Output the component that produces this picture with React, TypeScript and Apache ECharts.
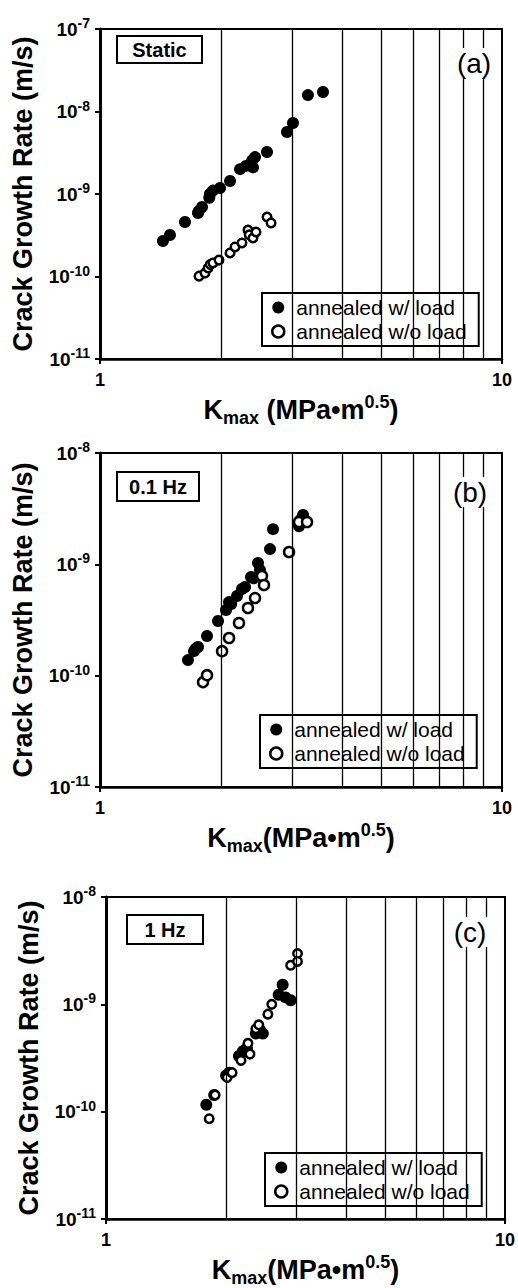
import React, { useEffect, useRef } from "react";
import * as echarts from "echarts";

const FONT = '"Liberation Sans", Arial, Helvetica, sans-serif';

// Gridline positions on the K axis
const gridK = [2, 3, 4, 5, 6, 7, 8, 9];

const seriesNames = ["annealed w/ load", "annealed w/o load"];
const panelTags = ["Static", "0.1 Hz", "1 Hz"];
const panelLetters = ["(a)", "(b)", "(c)"];

// (a) Static
const staticWithLoad: [number, number][] = [
  [1.434, 2.69e-10], [1.493, 3.18e-10], [1.627, 4.58e-10], [1.753, 5.89e-10], [1.76, 6.2e-10],
  [1.794, 6.95e-10], [1.87, 9.0e-10], [1.877, 1.0e-9], [1.91, 1.1e-9], [1.989, 1.18e-9],
  [2.106, 1.44e-9], [2.23, 2.0e-9], [2.307, 2.19e-9], [2.39, 2.55e-9], [2.402, 2.1e-9],
  [2.43, 2.8e-9], [2.603, 3.23e-9], [2.918, 5.65e-9], [3.02, 7.25e-9], [3.29, 1.58e-8], [3.587, 1.72e-8],
];
const staticNoLoad: [number, number][] = [
  [1.763, 1.01e-10], [1.825, 1.1e-10], [1.857, 1.27e-10], [1.88, 1.4e-10], [1.91, 1.46e-10],
  [1.977, 1.58e-10], [2.106, 1.93e-10], [2.167, 2.28e-10], [2.255, 2.55e-10], [2.334, 3.66e-10],
  [2.35, 3.2e-10], [2.402, 2.93e-10], [2.444, 3.46e-10], [2.603, 5.26e-10], [2.664, 4.46e-10],
];

// (b) 0.1 Hz
const hz01WithLoad: [number, number][] = [
  [1.655, 1.38e-10], [1.713, 1.66e-10], [1.73, 1.75e-10], [1.753, 1.81e-10], [1.846, 2.27e-10],
  [1.966, 3.1e-10], [2.058, 3.89e-10], [2.094, 4.58e-10], [2.12, 4.4e-10], [2.192, 5.19e-10],
  [2.255, 6.0e-10], [2.295, 6.25e-10], [2.375, 7.69e-10], [2.41, 7.5e-10], [2.472, 1.03e-9],
  [2.5, 8.9e-10], [2.648, 1.37e-9], [2.694, 2.07e-9], [3.126, 2.2e-9], [3.15, 2.5e-9], [3.2, 2.77e-9],
];
const hz01NoLoad: [number, number][] = [
  [1.804, 8.75e-11], [1.846, 1.01e-10], [2.012, 1.66e-10], [2.094, 2.18e-10], [2.217, 2.97e-10],
  [2.334, 4.05e-10], [2.43, 4.98e-10], [2.529, 7.85e-10], [2.558, 6.52e-10], [2.953, 1.29e-9],
  [3.126, 2.4e-9], [3.273, 2.4e-9],
];

// (c) 1 Hz
const hz1WithLoad: [number, number][] = [
  [1.784, 1.16e-10], [1.867, 1.43e-10], [2.0, 2.17e-10], [2.035, 2.31e-10], [2.154, 3.3e-10],
  [2.204, 3.66e-10], [2.255, 3.9e-10], [2.375, 5.34e-10], [2.43, 5.8e-10], [2.472, 5.34e-10],
  [2.709, 1.23e-9], [2.772, 1.52e-9], [2.82, 1.16e-9], [2.902, 1.09e-9],
];
const hz1NoLoad: [number, number][] = [
  [1.814, 8.6e-11], [1.877, 1.43e-10], [2.012, 2.08e-10], [2.07, 2.31e-10], [2.18, 3.0e-10],
  [2.269, 4.33e-10], [2.295, 3.44e-10], [2.375, 5.93e-10], [2.415, 6.44e-10], [2.545, 8.1e-10],
  [2.603, 1.0e-9], [2.902, 2.31e-9], [3.02, 2.97e-9], [3.02, 2.51e-9],
];

const yRanges: [number, number][] = [
  [1e-11, 1e-7],
  [1e-11, 1e-8],
  [1e-11, 1e-8],
];
const xRange: [number, number] = [1, 10];

const withLoadSets = [staticWithLoad, hz01WithLoad, hz1WithLoad];
const noLoadSets = [staticNoLoad, hz01NoLoad, hz1NoLoad];

// layout (pixels)
const layout = [
  { grid: { left: 100, top: 29, width: 402, height: 330 }, tagBox: [117, 36, 85, 27], letter: [474, 63], legend: [262, 293], xName: "{k|K}{sub|max}{k| (MPa•m}{sup|0.5}{k|)}" },
  { grid: { left: 100, top: 453, width: 402, height: 334 }, tagBox: [117, 472, 82, 29], letter: [470, 492], legend: [260, 715], xName: "{k|K}{sub|max}{k|(MPa•m}{sup|0.5}{k|)}" },
  { grid: { left: 106, top: 897, width: 402, height: 330 }, tagBox: [127, 915, 76, 29], letter: [470, 932], legend: [265, 1153], xName: "{k|K}{sub|max}{k|(MPa•m}{sup|0.5}{k|)}" },
];

export default function App() {
  const ref = useRef<HTMLDivElement>(null);
  useEffect(() => {
    document.body.style.margin = "0";
    if (!ref.current) return;
    const chart = echarts.init(ref.current, undefined, { renderer: "svg" });

    const grids: any[] = [];
    const xAxes: any[] = [];
    const yAxes: any[] = [];
    const series: any[] = [];
    const legends: any[] = [];
    const graphics: any[] = [];

    layout.forEach((L, i) => {
      grids.push({ ...L.grid, show: true, borderColor: "#000", borderWidth: 2, backgroundColor: "#fff" });
      xAxes.push({
        type: "log",
        logBase: 10,
        gridIndex: i,
        min: xRange[0],
        max: xRange[1],
        splitLine: { show: false },
        axisLine: { show: true, lineStyle: { color: "#000", width: 2.5 } },
        axisTick: { show: true, length: 5, lineStyle: { color: "#000", width: 2 } },
        axisLabel: { fontFamily: FONT, fontWeight: "bold", fontSize: 18, color: "#000", margin: 12 },
        name: L.xName,
        nameLocation: "middle",
        nameGap: 34,
        nameTextStyle: {
          color: "#000",
          rich: {
            k: { fontFamily: FONT, fontWeight: "bold", fontSize: 27, lineHeight: 34, color: "#000" },
            sub: { fontFamily: FONT, fontWeight: "bold", fontSize: 18, lineHeight: 26, verticalAlign: "bottom", color: "#000" },
            sup: { fontFamily: FONT, fontWeight: "bold", fontSize: 18, lineHeight: 18, verticalAlign: "top", color: "#000" },
          },
        },
      });
      yAxes.push({
        type: "log",
        logBase: 10,
        gridIndex: i,
        min: yRanges[i][0],
        max: yRanges[i][1],
        splitLine: { show: false },
        axisLine: { show: true, lineStyle: { color: "#000", width: 3 } },
        axisTick: { show: true, length: 5, lineStyle: { color: "#000", width: 2 } },
        axisLabel: {
          margin: 10,
          formatter: (v: number) => `{b|10}{s|${Math.round(Math.log10(v))}}`,
          rich: {
            b: { fontFamily: FONT, fontWeight: "bold", fontSize: 19, lineHeight: 26, color: "#000" },
            s: { fontFamily: FONT, fontWeight: "bold", fontSize: 14, lineHeight: 14, verticalAlign: "top", color: "#000" },
          },
        },
        name: "Crack Growth Rate (m/s)",
        nameLocation: "middle",
        nameRotate: 90,
        nameGap: 64,
        nameTextStyle: { fontFamily: FONT, fontWeight: "bold", fontSize: 27, color: "#000" },
      });
      series.push({
        type: "line",
        xAxisIndex: i,
        yAxisIndex: i,
        data: [],
        z: 1,
        silent: true,
        markLine: {
          silent: true,
          symbol: "none",
          label: { show: false },
          lineStyle: { color: "#000", width: 1.3, type: "solid" },
          data: gridK.map((k) => ({ xAxis: k })),
        },
      });
      series.push({
        type: "scatter",
        name: seriesNames[0],
        xAxisIndex: i,
        yAxisIndex: i,
        data: withLoadSets[i],
        symbol: "circle",
        symbolSize: 12,
        itemStyle: { color: "#000", opacity: 1 },
        z: 3,
      });
      series.push({
        type: "scatter",
        name: seriesNames[1],
        xAxisIndex: i,
        yAxisIndex: i,
        data: noLoadSets[i],
        symbol: "circle",
        symbolSize: i === 1 ? 10 : 8.5,
        itemStyle: { color: "#fff", borderColor: "#000", borderWidth: 2.5, opacity: 1 },
        z: 4,
      });
      legends.push({
        data: [
          { name: seriesNames[0] },
          { name: seriesNames[1], itemStyle: { color: "#fff", borderColor: "#000", borderWidth: 2.5 } },
        ],
        left: L.legend[0],
        top: L.legend[1],
        orient: "vertical",
        backgroundColor: "#fff",
        borderColor: "#000",
        borderWidth: 2,
        padding: [4, 12, 4, 9],
        itemGap: 3,
        itemWidth: 26,
        itemHeight: 12,
        icon: "circle",
        selectedMode: false,
        textStyle: { fontFamily: FONT, fontSize: 21, color: "#000" },
      });
      const [bx, by, bw, bh] = L.tagBox;
      graphics.push({
        type: "rect",
        z: 10,
        shape: { x: bx, y: by, width: bw, height: bh },
        style: { fill: "#fff", stroke: "#000", lineWidth: 2 },
      });
      graphics.push({
        type: "text",
        z: 11,
        x: bx + bw / 2,
        y: by + bh / 2,
        style: {
          text: panelTags[i],
          fontFamily: FONT,
          fontWeight: "bold",
          fontSize: 20,
          fill: "#000",
          align: "center",
          verticalAlign: "middle",
        },
      });
      graphics.push({
        type: "text",
        z: 11,
        x: L.letter[0],
        y: L.letter[1],
        style: {
          text: panelLetters[i],
          fontFamily: FONT,
          fontSize: 28,
          fill: "#000",
          align: "center",
          verticalAlign: "middle",
          backgroundColor: "#fff",
          padding: [1, 2],
        },
      });
    });

    chart.setOption({
      animation: false,
      backgroundColor: "#fff",
      grid: grids,
      xAxis: xAxes,
      yAxis: yAxes,
      series,
      legend: legends,
      graphic: graphics,
    });
    return () => chart.dispose();
  }, []);
  return <div ref={ref} style={{ width: 518, height: 1288 }} />;
}
